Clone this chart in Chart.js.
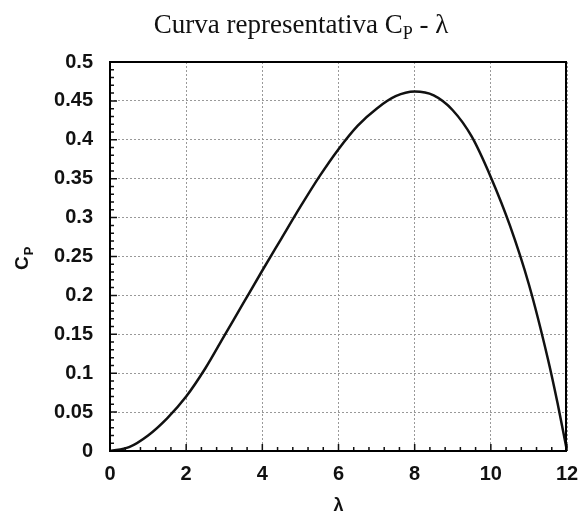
<!DOCTYPE html>
<html>
<head>
<meta charset="utf-8">
<script src="https://cdn.jsdelivr.net/npm/chart.js@4/dist/chart.umd.min.js"></script>
<style>
  body { margin: 0; background: #fff; overflow: hidden; }
  #wrap { width: 579px; height: 517px; position: relative; }
</style>
</head>
<body>
<div id="wrap"><canvas id="myChart"></canvas></div>
<script>
// values
const lambdaVals = [0, 0.5, 1, 1.5, 2, 2.5, 3, 3.5, 4, 4.5, 5, 5.5, 6, 6.5, 7, 7.5, 8, 8.5, 9, 9.5, 10, 10.5, 11, 11.5, 11.75, 12];
const cpVals     = [0, 0.005, 0.020, 0.042, 0.070, 0.106, 0.148, 0.190, 0.232, 0.273, 0.314, 0.353, 0.388, 0.418, 0.440, 0.456, 0.462, 0.457, 0.438, 0.404, 0.352, 0.290, 0.214, 0.118, 0.062, 0];
const xTicks = [0, 2, 4, 6, 8, 10, 12];
const yTicks = [0, 0.05, 0.1, 0.15, 0.2, 0.25, 0.3, 0.35, 0.4, 0.45, 0.5];

const points = lambdaVals.map((l, i) => ({ x: l, y: cpVals[i] }));
const tickFont = { family: "'Liberation Sans', Arial, sans-serif", size: 20, weight: 'bold' };

// title, axis title C_P, frame and inward ticks
const decor = {
    id: 'decor',
    afterDraw(chart) {
        const ctx = chart.ctx;
        const a = chart.chartArea;
        const xs = chart.scales.x, ys = chart.scales.y;
        ctx.save();
        // inward tick marks
        ctx.strokeStyle = '#111';
        ctx.lineWidth = 1.5;
        ctx.beginPath();
        for (let i = 0; i <= 30; i++) {
            const px = xs.getPixelForValue(i * 0.4);
            const len = (i % 5 === 0) ? 7 : 4;
            ctx.moveTo(px, a.bottom); ctx.lineTo(px, a.bottom - len);
        }
        for (let i = 0; i <= 50; i++) {
            const py = ys.getPixelForValue(i * 0.01);
            const len = (i % 5 === 0) ? 7 : 4;
            ctx.moveTo(a.left, py); ctx.lineTo(a.left + len, py);
        }
        ctx.stroke();
        // frame, four sides
        const r = xs.getPixelForValue(12), l = xs.getPixelForValue(0);
        const t = ys.getPixelForValue(0.5), b = ys.getPixelForValue(0);
        ctx.lineWidth = 2;
        ctx.strokeStyle = '#000';
        ctx.beginPath();
        ctx.moveTo(l, t); ctx.lineTo(r - 1, t);
        ctx.lineTo(r - 1, b); ctx.lineTo(l, b); ctx.closePath();
        ctx.stroke();

        // main title with subscript
        ctx.fillStyle = '#111';
        ctx.textBaseline = 'alphabetic';
        ctx.textAlign = 'left';
        const big = "27px 'Liberation Serif', 'Times New Roman', serif";
        const small = "18px 'Liberation Serif', 'Times New Roman', serif";
        const t1 = 'Curva representativa C', t2 = 'P', t3 = ' - λ';
        ctx.font = big; const w1 = ctx.measureText(t1).width, w3 = ctx.measureText(t3).width;
        ctx.font = small; const w2 = ctx.measureText(t2).width;
        let x0 = 301 - (w1 + w2 + w3) / 2;
        ctx.font = big; ctx.fillText(t1, x0, 33);
        ctx.font = small; ctx.fillText(t2, x0 + w1, 39);
        ctx.font = big; ctx.fillText(t3, x0 + w1 + w2, 33);

        // y axis title C_P rotated
        ctx.translate(28, 270);
        ctx.rotate(-Math.PI / 2);
        ctx.font = "bold 19px 'Liberation Sans', Arial, sans-serif";
        const wc = ctx.measureText('C').width;
        ctx.fillText('C', 0, 0);
        ctx.font = "bold 13px 'Liberation Sans', Arial, sans-serif";
        ctx.fillText('P', wc + 1, 5);
        ctx.restore();
    }
};

const ctx = document.getElementById('myChart');
const myChart = new Chart(ctx, {
    type: 'line',
    data: {
        datasets: [{
            label: 'Cp',
            data: points,
            borderColor: '#111',
            borderWidth: 2.5,
            pointRadius: 0,
            fill: false,
            cubicInterpolationMode: 'monotone'
        }]
    },
    options: {
        responsive: true,
        maintainAspectRatio: false,
        animation: false,
        layout: { padding: { top: 62, right: 0, left: 0, bottom: 0 } },
        plugins: { legend: { display: false }, title: { display: false }, tooltip: { enabled: false } },
        scales: {
            x: {
                type: 'linear',
                min: 0, max: 12,
                afterBuildTicks: s => { s.ticks = xTicks.map(v => ({ value: v })); },
                afterFit: s => { s.height = 66; s.paddingRight = 12; s.paddingLeft = 0; },
                grid: { color: '#999', lineWidth: 1, drawTicks: false },
                border: { display: false, dash: [2, 2] },
                ticks: { color: '#111', font: tickFont, padding: 11, maxRotation: 0 },
                title: {
                    display: true, text: 'λ', color: '#111',
                    font: { family: "'Liberation Sans', Arial, sans-serif", size: 18, weight: 'bold' },
                    padding: { top: 0, bottom: 0 }
                }
            },
            y: {
                min: 0, max: 0.5,
                afterBuildTicks: s => { s.ticks = yTicks.map(v => ({ value: v })); },
                afterFit: s => { s.width = 110; },
                grid: { color: '#999', lineWidth: 1, drawTicks: false },
                border: { display: false, dash: [2, 2] },
                ticks: {
                    color: '#111', font: tickFont, padding: 17,
                    callback: v => String(parseFloat(v.toFixed(2)))
                }
            }
        }
    },
    plugins: [decor]
});
</script>
</body>
</html>
